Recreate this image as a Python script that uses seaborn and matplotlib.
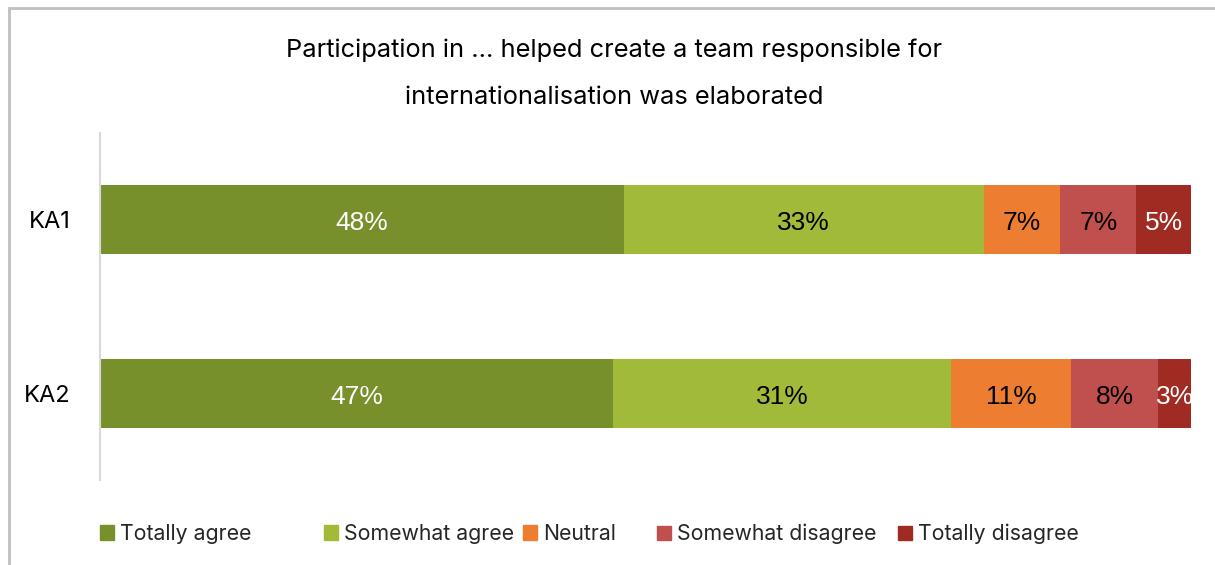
import matplotlib
matplotlib.use("Agg")
import matplotlib.pyplot as plt
import matplotlib.patches as mpatches
import pandas as pd
import seaborn as sns

# Survey responses (percent of respondents)
groups = ["KA1", "KA2"]
responses = ["Totally agree", "Somewhat agree", "Neutral", "Somewhat disagree", "Totally disagree"]
totally_agree = [48, 47]
somewhat_agree = [33, 31]
neutral = [7, 11]
somewhat_disagree = [7, 8]
totally_disagree = [5, 3]
colors = ["#77902B", "#A1BA3A", "#ED7D31", "#C0504D", "#A02B23"]
label_colors = ["white", "black", "black", "black", "white"]

series = [totally_agree, somewhat_agree, neutral, somewhat_disagree, totally_disagree]

sns.set_theme(style="white")
plt.rcParams["font.family"] = ["Inter", "DejaVu Sans"]

fig = plt.figure(figsize=(12.15, 5.65), dpi=100)
ax = fig.add_axes([100 / 1215, 1 - 480 / 565, (1191 - 100) / 1215, (480 - 133) / 565])

# Long-form table with cumulative ends for stacking
rows = []
for r, vals in zip(responses, series):
    for g, v in zip(groups, vals):
        rows.append({"group": g, "response": r, "value": v})
df = pd.DataFrame(rows)
df["end"] = df.groupby("group")["value"].cumsum()
df["start"] = df["end"] - df["value"]

# Draw from the outermost segment inward so each layer covers the previous
for r, c in reversed(list(zip(responses, colors))):
    sub = df[df["response"] == r]
    sns.barplot(data=sub, x="end", y="group", order=groups, color=c,
                width=0.4, orient="h", ax=ax, saturation=1, linewidth=0)

for r, lc in zip(responses, label_colors):
    sub = df[df["response"] == r]
    for _, row in sub.iterrows():
        yi = groups.index(row["group"])
        ax.text(row["start"] + row["value"] / 2, yi + 0.02, f"{row['value']}%",
                ha="center", va="center", color=lc, fontsize=19,
                family=["Liberation Sans", "DejaVu Sans"])

ax.set_xlim(0, 100)
ax.set_ylim(1.5, -0.5)
ax.set_xlabel("")
ax.set_ylabel("")
ax.set_xticks([])
ax.tick_params(axis="y", length=0, pad=21, labelsize=17, labelcolor="#000000")
for side in ["top", "right", "bottom"]:
    ax.spines[side].set_visible(False)
ax.spines["left"].set_color("#D9D9D9")
ax.spines["left"].set_linewidth(1.5)

fig.text(614 / 1215, 1 - 50 / 565, "Participation in ... helped create a team responsible for",
         ha="center", va="center", fontsize=18.3, color="#000000")
fig.text(614 / 1215, 1 - 97 / 565, "internationalisation was elaborated",
         ha="center", va="center", fontsize=18.3, color="#000000")

# Legend entries placed individually
legend_x = [100, 324, 523, 657, 898]
for r, c, lx in zip(responses, colors, legend_x):
    h = mpatches.Patch(color=c, label=r)
    leg = fig.legend(handles=[h], loc="center left",
                     bbox_to_anchor=(lx / 1215, 1 - 534 / 565),
                     frameon=False, fontsize=15.3, handlelength=0.65, handleheight=0.65,
                     handletextpad=0.3, borderpad=0, borderaxespad=0)
    for t in leg.get_texts():
        t.set_color("#262626")

# Chart area border
fig.patches.append(mpatches.Rectangle((9 / 1215, -0.1), 1.2, 1 - 8 / 565 + 0.1,
                                      transform=fig.transFigure, fill=False,
                                      edgecolor="#BFBFBF", linewidth=2))

fig.savefig("out.png", dpi=100)
